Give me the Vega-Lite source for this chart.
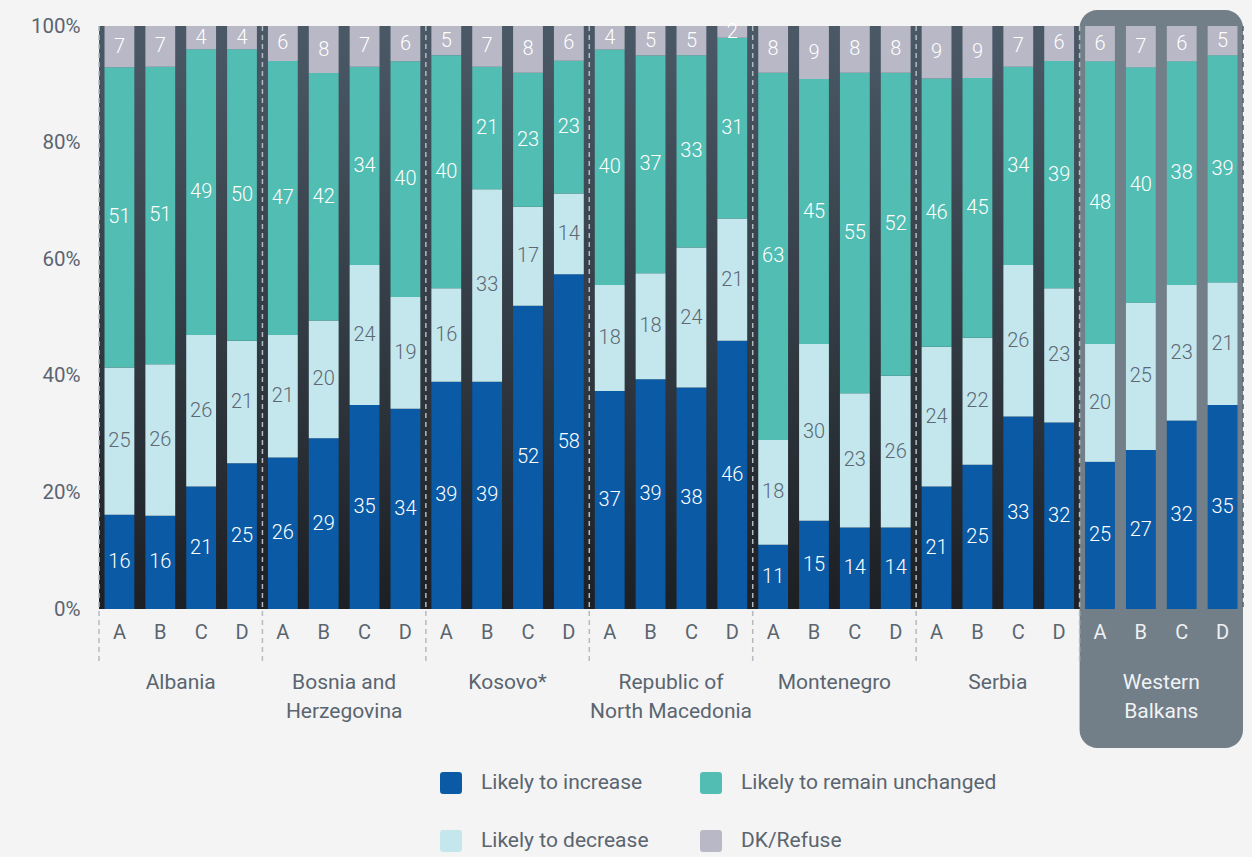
{
  "$schema": "https://vega.github.io/schema/vega-lite/v6.json",
  "width": 1144,
  "height": 583,
  "autosize": "none",
  "padding": {"left": 99, "top": 26, "right": 9, "bottom": 248},
  "background": "#f4f4f4",
  "config": {
    "font": "Roboto, sans-serif",
    "view": {
      "stroke": null,
      "fill": {"gradient": "linear", "x1": 0, "y1": 0, "x2": 0, "y2": 1,
        "stops": [{"offset": 0, "color": "#4b5967"}, {"offset": 1, "color": "#1c1f23"}]}
    }
  },
  "datasets": {
    "cats": [
      {"cat": "Likely to increase", "rank": 1},
      {"cat": "Likely to decrease", "rank": 2},
      {"cat": "Likely to remain unchanged", "rank": 3},
      {"cat": "DK/Refuse", "rank": 4}
    ]
  },
  "data": {"values": [
    {"country": "Albania", "wave": "A", "Likely to increase": 16, "Likely to decrease": 25, "Likely to remain unchanged": 51, "DK/Refuse": 7},
    {"country": "Albania", "wave": "B", "Likely to increase": 16, "Likely to decrease": 26, "Likely to remain unchanged": 51, "DK/Refuse": 7},
    {"country": "Albania", "wave": "C", "Likely to increase": 21, "Likely to decrease": 26, "Likely to remain unchanged": 49, "DK/Refuse": 4},
    {"country": "Albania", "wave": "D", "Likely to increase": 25, "Likely to decrease": 21, "Likely to remain unchanged": 50, "DK/Refuse": 4},
    {"country": "Bosnia and Herzegovina", "wave": "A", "Likely to increase": 26, "Likely to decrease": 21, "Likely to remain unchanged": 47, "DK/Refuse": 6},
    {"country": "Bosnia and Herzegovina", "wave": "B", "Likely to increase": 29, "Likely to decrease": 20, "Likely to remain unchanged": 42, "DK/Refuse": 8},
    {"country": "Bosnia and Herzegovina", "wave": "C", "Likely to increase": 35, "Likely to decrease": 24, "Likely to remain unchanged": 34, "DK/Refuse": 7},
    {"country": "Bosnia and Herzegovina", "wave": "D", "Likely to increase": 34, "Likely to decrease": 19, "Likely to remain unchanged": 40, "DK/Refuse": 6},
    {"country": "Kosovo*", "wave": "A", "Likely to increase": 39, "Likely to decrease": 16, "Likely to remain unchanged": 40, "DK/Refuse": 5},
    {"country": "Kosovo*", "wave": "B", "Likely to increase": 39, "Likely to decrease": 33, "Likely to remain unchanged": 21, "DK/Refuse": 7},
    {"country": "Kosovo*", "wave": "C", "Likely to increase": 52, "Likely to decrease": 17, "Likely to remain unchanged": 23, "DK/Refuse": 8},
    {"country": "Kosovo*", "wave": "D", "Likely to increase": 58, "Likely to decrease": 14, "Likely to remain unchanged": 23, "DK/Refuse": 6},
    {"country": "Republic of North Macedonia", "wave": "A", "Likely to increase": 37, "Likely to decrease": 18, "Likely to remain unchanged": 40, "DK/Refuse": 4},
    {"country": "Republic of North Macedonia", "wave": "B", "Likely to increase": 39, "Likely to decrease": 18, "Likely to remain unchanged": 37, "DK/Refuse": 5},
    {"country": "Republic of North Macedonia", "wave": "C", "Likely to increase": 38, "Likely to decrease": 24, "Likely to remain unchanged": 33, "DK/Refuse": 5},
    {"country": "Republic of North Macedonia", "wave": "D", "Likely to increase": 46, "Likely to decrease": 21, "Likely to remain unchanged": 31, "DK/Refuse": 2},
    {"country": "Montenegro", "wave": "A", "Likely to increase": 11, "Likely to decrease": 18, "Likely to remain unchanged": 63, "DK/Refuse": 8},
    {"country": "Montenegro", "wave": "B", "Likely to increase": 15, "Likely to decrease": 30, "Likely to remain unchanged": 45, "DK/Refuse": 9},
    {"country": "Montenegro", "wave": "C", "Likely to increase": 14, "Likely to decrease": 23, "Likely to remain unchanged": 55, "DK/Refuse": 8},
    {"country": "Montenegro", "wave": "D", "Likely to increase": 14, "Likely to decrease": 26, "Likely to remain unchanged": 52, "DK/Refuse": 8},
    {"country": "Serbia", "wave": "A", "Likely to increase": 21, "Likely to decrease": 24, "Likely to remain unchanged": 46, "DK/Refuse": 9},
    {"country": "Serbia", "wave": "B", "Likely to increase": 25, "Likely to decrease": 22, "Likely to remain unchanged": 45, "DK/Refuse": 9},
    {"country": "Serbia", "wave": "C", "Likely to increase": 33, "Likely to decrease": 26, "Likely to remain unchanged": 34, "DK/Refuse": 7},
    {"country": "Serbia", "wave": "D", "Likely to increase": 32, "Likely to decrease": 23, "Likely to remain unchanged": 39, "DK/Refuse": 6},
    {"country": "Western Balkans", "wave": "A", "Likely to increase": 25, "Likely to decrease": 20, "Likely to remain unchanged": 48, "DK/Refuse": 6},
    {"country": "Western Balkans", "wave": "B", "Likely to increase": 27, "Likely to decrease": 25, "Likely to remain unchanged": 40, "DK/Refuse": 7},
    {"country": "Western Balkans", "wave": "C", "Likely to increase": 32, "Likely to decrease": 23, "Likely to remain unchanged": 38, "DK/Refuse": 6},
    {"country": "Western Balkans", "wave": "D", "Likely to increase": 35, "Likely to decrease": 21, "Likely to remain unchanged": 39, "DK/Refuse": 5}
  ]},
  "layer": [
    {
      "data": {"values": [{"country": "Western Balkans"}]},
      "mark": {"type": "rect", "color": "#737f88", "cornerRadius": 18, "clip": false},
      "encoding": {
        "x": {"field": "country", "type": "nominal", "sort": null,
          "scale": {"domain": ["Albania", "Bosnia and Herzegovina", "Kosovo*", "Republic of North Macedonia", "Montenegro", "Serbia", "Western Balkans"], "paddingInner": 0, "paddingOuter": 0}},
        "y": {"datum": 1.0274, "type": "quantitative", "title": null},
        "y2": {"datum": -0.2384}
      }
    },
    {
      "transform": [{"filter": "datum.wave == 'A'"}],
      "mark": {"type": "rule", "color": "#b3bac1", "strokeWidth": 1.5, "strokeDash": [5, 4], "clip": false},
      "encoding": {
        "x": {"field": "country", "type": "nominal", "sort": null, "bandPosition": 0},
        "y": {"datum": 1, "type": "quantitative", "title": null},
        "y2": {"datum": -0.09}
      }
    },
    {
      "data": {"values": [{"country": "Western Balkans"}]},
      "mark": {"type": "rule", "color": "#56616b", "strokeWidth": 1.5, "strokeDash": [5, 4]},
      "encoding": {
        "x": {"field": "country", "type": "nominal", "sort": null, "bandPosition": 1},
        "y": {"datum": 1, "type": "quantitative", "title": null},
        "y2": {"datum": 0}
      }
    },
    {
      "transform": [
        {"fold": ["Likely to increase", "Likely to decrease", "Likely to remain unchanged", "DK/Refuse"], "as": ["cat", "value"]},
        {"lookup": "cat", "from": {"data": {"name": "cats"}, "key": "cat", "fields": ["rank"]}}
      ],
      "layer": [
        {
          "mark": {"type": "bar"},
          "encoding": {
            "x": {"field": "country", "type": "nominal", "sort": null,
              "axis": {"title": null, "ticks": false, "domain": false, "labelFontSize": 21, "labelPadding": 62,
                "labelLineHeight": 29, "labelBaseline": "top", "labelAlign": "center", "labelOverlap": false, "labelAngle": 0,
                "labelColor": {"condition": {"test": "datum.value == 'Western Balkans'", "value": "#f0f3f5"}, "value": "#5a6570"},
                "labelExpr": "datum.label == 'Bosnia and Herzegovina' ? ['Bosnia and', 'Herzegovina'] : datum.label == 'Republic of North Macedonia' ? ['Republic of', 'North Macedonia'] : datum.label == 'Western Balkans' ? ['Western', 'Balkans'] : datum.label"}},
            "xOffset": {"field": "wave", "type": "nominal", "scale": {"paddingInner": 0.27, "paddingOuter": 0.135}},
            "y": {"field": "value", "type": "quantitative", "stack": "normalize",
              "scale": {"domain": [0, 1], "nice": false},
              "axis": {"title": null, "format": "%", "values": [0, 0.2, 0.4, 0.6, 0.8, 1], "grid": false, "ticks": false, "domain": false,
                "labelFontSize": 20.5, "labelColor": "#5a6570", "labelPadding": 19}},
            "color": {"field": "cat", "type": "nominal",
              "scale": {"domain": ["Likely to increase", "Likely to decrease", "Likely to remain unchanged", "DK/Refuse"],
                "range": ["#0a5aa6", "#c4e7ee", "#52bdb3", "#b8b8c6"]},
              "legend": {"title": null, "orient": "none", "legendX": 341, "legendY": 746, "columns": 2,
                "symbolType": "M-0.7,-1 H0.7 Q1,-1 1,-0.7 V0.7 Q1,1 0.7,1 H-0.7 Q-1,1 -1,0.7 V-0.7 Q-1,-1 -0.7,-1 Z",
                "symbolSize": 484, "symbolStrokeWidth": 0, "labelFontSize": 21, "labelColor": "#5a6570",
                "labelOffset": 19, "columnPadding": 51, "rowPadding": 36, "labelLimit": 400}},
            "order": {"field": "rank", "type": "quantitative"}
          }
        },
        {
          "mark": {"type": "text", "fontSize": 20, "fontWeight": 300, "baseline": "middle"},
          "encoding": {
            "x": {"field": "country", "type": "nominal", "sort": null},
            "xOffset": {"field": "wave", "type": "nominal"},
            "y": {"field": "value", "type": "quantitative", "stack": "normalize", "bandPosition": 0.5},
            "detail": {"field": "cat", "type": "nominal"},
            "order": {"field": "rank", "type": "quantitative"},
            "text": {"field": "value", "type": "quantitative", "format": "d"},
            "color": {"condition": {"test": "datum.cat == 'Likely to decrease'", "value": "#5d6873"}, "value": "#ffffff"}
          }
        }
      ]
    },
    {
      "mark": {"type": "text", "fontSize": 20, "baseline": "middle", "clip": false},
      "encoding": {
        "x": {"field": "country", "type": "nominal", "sort": null},
        "xOffset": {"field": "wave", "type": "nominal"},
        "y": {"datum": -0.041, "type": "quantitative", "title": null},
        "text": {"field": "wave", "type": "nominal"},
        "color": {"condition": {"test": "datum.country == 'Western Balkans'", "value": "#eef1f4"}, "value": "#5a6570"}
      }
    }
  ]
}
